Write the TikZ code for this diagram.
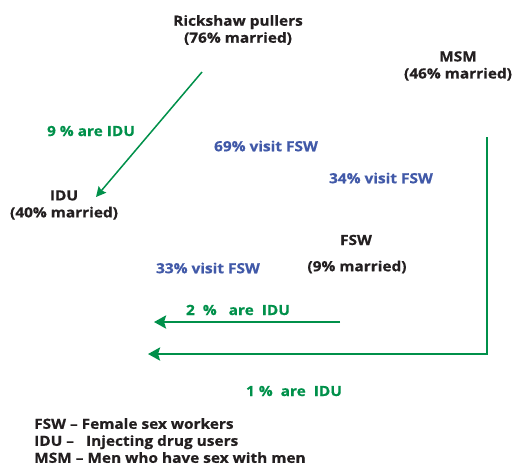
\documentclass[tikz,border=0pt]{standalone}
\usepackage{fontspec}
\setmainfont{Open Sans}[BoldFeatures={FakeStretch=1.1,FakeBold=0.6}]
\usetikzlibrary{arrows.meta}
\definecolor{grn}{HTML}{00904A}
\definecolor{blu}{HTML}{4159A8}
\definecolor{ink}{HTML}{231F20}
\begin{document}
\begin{tikzpicture}[x=1pt,y=-1pt,
  lbl/.style={font=\fontsize{14}{17}\selectfont\bfseries, text=ink, align=center, inner sep=0pt},
  gl/.style={font=\fontsize{14}{17}\selectfont\bfseries, text=grn, inner sep=0pt},
  bl/.style={font=\fontsize{14}{17}\selectfont\bfseries, text=blu, inner sep=0pt},
  thin/.style={draw=grn, line width=1.5pt, -{Stealth[length=10pt,width=10pt,inset=1.5pt]}},
  thick/.style={draw=grn, line width=2.8pt, -{Stealth[length=12pt,width=13pt,inset=2pt]}}]
\useasboundingbox (0,0) rectangle (514,469);
\node[lbl] (rick) at (238,30) {Rickshaw pullers\\(76\% married)};
\node[lbl] (msm) at (458,66) {MSM\\(46\% married)};
\node[lbl] (idu) at (64,205) {IDU\\(40\% married)};
\node[lbl] (fsw) at (356,240) {FSW};
\node[lbl] (fswm) at (357,267) {(9\% married)};
\node[gl] (l9) at (91,131) {9 \% are IDU};
\node[bl] (v69) at (266,146) {69\% visit FSW};
\node[bl] (v34) at (381,178) {34\% visit FSW};
\node[bl] (v33) at (208,268) {33\% visit FSW};
\node[gl] (l2) at (238,310) {2~~\%~~~are~~IDU};
\node[gl] (l1) at (294,391) {1 \%~~are~~IDU};
\node[lbl, align=left, anchor=north west] (leg) at (34,418) {FSW -- Female sex workers\\IDU --~~~Injecting drug users\\MSM -- Men who have sex with men};
\coordinate (a1s) at (202,72);
\coordinate (a1e) at (96,197);
\draw[thin] (a1s) -- (a1e);
\coordinate (a2s) at (340,322);
\coordinate (a2e) at (154,322);
\draw[thick] (a2s) -- (a2e);
\coordinate (a3s) at (487,137);
\coordinate (a3c) at (487,354);
\coordinate (a3e) at (148,354);
\draw[thick, line join=miter] (a3s) -- (a3c) -- (a3e);
\end{tikzpicture}
\end{document}
